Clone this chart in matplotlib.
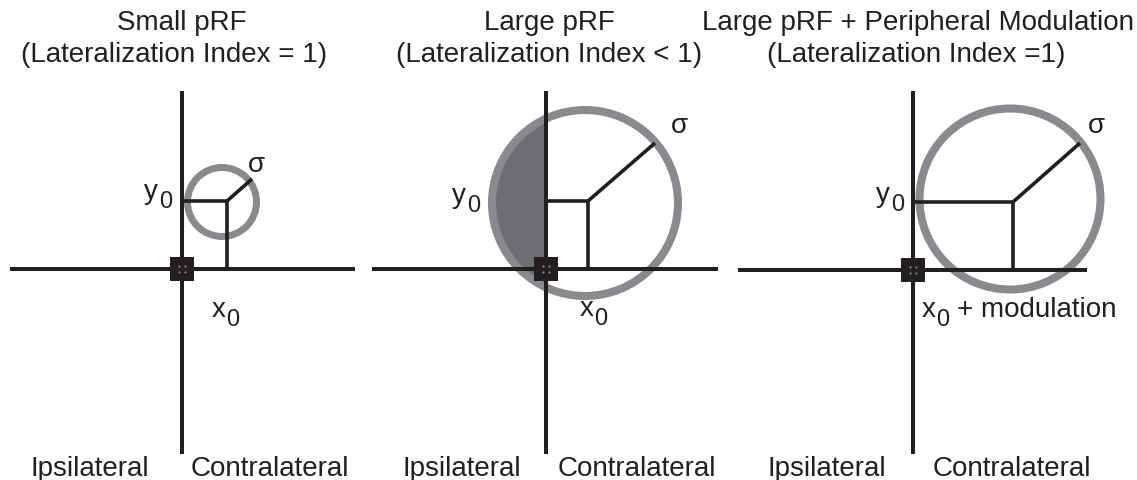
import matplotlib
matplotlib.use('Agg')
import matplotlib.pyplot as plt
from matplotlib.patches import Circle, Rectangle

plt.rcParams['font.family'] = ['Liberation Sans', 'DejaVu Sans']

W, H = 1137, 481

# ---- diagram content (pixel coordinates of the schematic) ----
titles_line1 = ["Small pRF", "Large pRF", "Large pRF + Peripheral Modulation"]
titles_line2 = ["(Lateralization Index = 1)", "(Lateralization Index < 1)",
                "(Lateralization Index =1)"]
title_x1 = [182, 549, 918]
title_x2 = [174, 549, 916]
title_base1 = 30
title_base2 = 62

origin_x = [182, 546, 913]
origin_y = [270, 270, 271]
haxis_left = [10, 372, 738]
haxis_right = [355, 718, 1087]
vaxis_top = [92, 92, 92]
vaxis_bottom = [455, 455, 455]

circle_cx = [222, 585, 1010]
circle_cy = [203, 204, 200]
circle_r = [34.5, 93, 90.5]
ring_width = [5.0, 5.8, 5.8]
shade_ipsi = [False, True, False]

center_x = [227, 588, 1013]
center_y = [202, 202, 203]
sigma_end_x = [252, 655, 1080]
sigma_end_y = [180, 144, 144]

x_suffix = ["", "", "+ modulation"]
x_label_x = [212, 580, 922]
x_label_base = [317, 316, 317]
y_label_x = [171, 479, 903]
y_label_base = [199, 203, 202]
sigma_x = [256, 679, 1096]
sigma_base = [172, 133, 133]

ipsi_x = [90, 462, 827]
contra_x = [270, 637, 1012]
bottom_base = 476

BLACK = '#231f20'
RING = '#898a8d'
SHADE = '#6d6e71'

fig = plt.figure(figsize=(W / 100, H / 100), dpi=100)
ax = fig.add_axes([0, 0, 1, 1])
ax.set_xlim(0, W)
ax.set_ylim(H, 0)
ax.axis('off')

fs_title = 20
fs_lab = 20
fs_sub = 17
sub_dy = 9

for i in range(3):
    ox, oy = origin_x[i], origin_y[i]
    # shaded ipsilateral part of pRF
    if shade_ipsi[i]:
        fill = Circle((circle_cx[i], circle_cy[i]), circle_r[i], facecolor=SHADE,
                      edgecolor='none', zorder=1)
        ax.add_patch(fill)
        clip = Rectangle((0, 0), ox, H, transform=ax.transData)
        fill.set_clip_path(clip)
    # pRF ring
    ax.add_patch(Circle((circle_cx[i], circle_cy[i]), circle_r[i], facecolor='none',
                        edgecolor=RING, lw=ring_width[i], zorder=2))
    # coordinate axes
    ax.plot([haxis_left[i], haxis_right[i]], [oy, oy], color=BLACK, lw=2.9,
            solid_capstyle='butt', zorder=4)
    ax.plot([ox, ox], [vaxis_top[i], vaxis_bottom[i]], color=BLACK, lw=2.9,
            solid_capstyle='butt', zorder=4)
    # x0 / y0 / sigma lines
    ax.plot([ox, center_x[i]], [center_y[i], center_y[i]], color=BLACK, lw=2.6,
            solid_capstyle='butt', zorder=3)
    ax.plot([center_x[i], center_x[i]], [center_y[i], oy], color=BLACK, lw=2.6,
            solid_capstyle='butt', zorder=3)
    ax.plot([center_x[i], sigma_end_x[i]], [center_y[i], sigma_end_y[i]], color=BLACK,
            lw=2.6, solid_capstyle='butt', zorder=3)
    # fixation square
    ax.add_patch(Rectangle((ox - 12, oy - 12), 24, 24, facecolor=BLACK,
                           edgecolor='none', zorder=5))
    ax.plot([ox - 3, ox + 3, ox - 3, ox + 3], [oy - 3, oy - 3, oy + 3, oy + 3],
            ls='none', marker='s', ms=1.3, mec='none', mfc='#9a9a9a', zorder=6)
    # x0 label
    xl, xb = x_label_x[i], x_label_base[i]
    ax.text(xl, xb, 'x', fontsize=fs_lab, ha='left', va='baseline', color=BLACK)
    ax.text(xl + 14, xb + sub_dy, '0', fontsize=fs_sub, ha='left', va='baseline',
            color=BLACK)
    if x_suffix[i]:
        ax.text(xl + 35, xb, x_suffix[i], fontsize=fs_lab, ha='left', va='baseline',
                color=BLACK)
    # y0 label
    yr, yb = y_label_x[i], y_label_base[i]
    ax.text(yr + 1, yb + sub_dy, '0', fontsize=fs_sub, ha='right', va='baseline',
            color=BLACK)
    ax.text(yr - 13, yb, 'y', fontsize=fs_lab, ha='right', va='baseline', color=BLACK)
    # sigma
    ax.text(sigma_x[i], sigma_base[i], 'σ', fontsize=fs_lab, ha='center',
            va='baseline', color=BLACK)
    # titles
    ax.text(title_x1[i], title_base1, titles_line1[i], fontsize=fs_title, ha='center',
            va='baseline', color=BLACK)
    ax.text(title_x2[i], title_base2, titles_line2[i], fontsize=fs_title, ha='center',
            va='baseline', color=BLACK)
    # hemifield labels
    ax.text(ipsi_x[i], bottom_base, 'Ipsilateral', fontsize=fs_lab, ha='center',
            va='baseline', color=BLACK)
    ax.text(contra_x[i], bottom_base, 'Contralateral', fontsize=fs_lab, ha='center',
            va='baseline', color=BLACK)

fig.savefig('out.png', dpi=100, facecolor='white')
